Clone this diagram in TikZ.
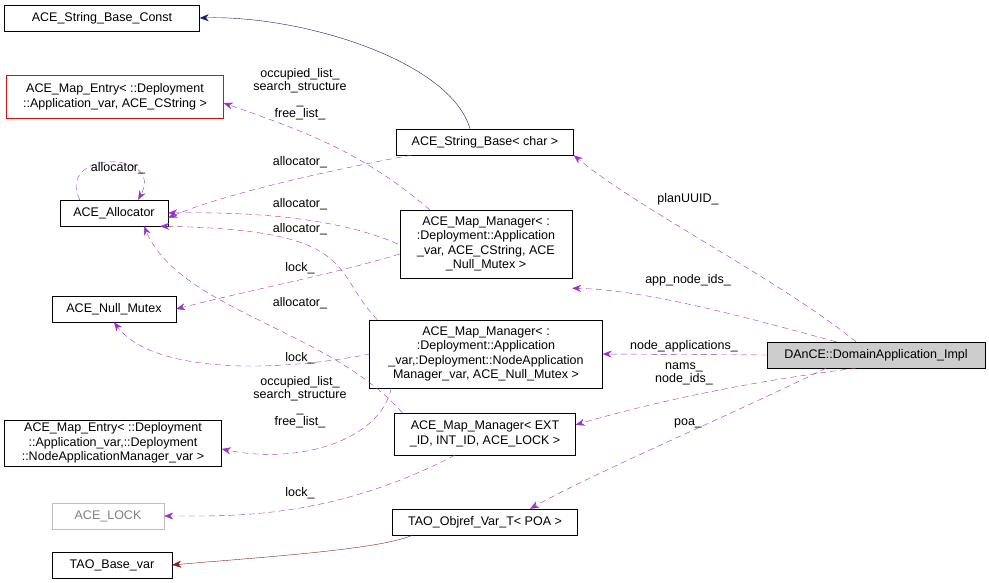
\documentclass[tikz,border=0pt]{standalone}
\usepackage{fontspec}
\setmainfont{Liberation Sans}
\usetikzlibrary{arrows.meta}

\definecolor{orchid}{RGB}{153,50,204}
\definecolor{navyline}{RGB}{25,25,112}
\definecolor{redline}{RGB}{139,26,26}

\tikzset{
	cls/.style={draw=black, fill=white, font=\fontsize{12.5}{14.5}\selectfont, inner sep=2pt, align=center},
	use/.style={dash pattern=on 6pt off 4pt, color=orchid, -{Stealth[length=9pt,width=7pt]}},
	lbl/.style={font=\fontsize{12.5}{13.5}\selectfont, align=center, inner sep=0pt},
}

\begin{document}
\begin{tikzpicture}[x=1pt, y=-1pt]
	\useasboundingbox (0,0) rectangle (989,583);

% classes
	\node[cls, minimum width=195pt, minimum height=26pt] (sbc) at (102,18) {ACE\_String\_Base\_Const};
	\node[cls, draw=red, minimum width=217pt, minimum height=43pt] (me1) at (115,97) {ACE\_Map\_Entry< ::Deployment\\::Application\_var, ACE\_CString >};
	\node[cls, minimum width=177pt, minimum height=26pt] (sb) at (485,142) {ACE\_String\_Base< char >};
	\node[cls, minimum width=108pt, minimum height=26pt] (alloc) at (114,213) {ACE\_Allocator};
	\node[cls, minimum width=172pt, minimum height=68pt] (mm1) at (486,244) {ACE\_Map\_Manager< :\\:Deployment::Application\\\_var, ACE\_CString, ACE\\\_Null\_Mutex >};
	\node[cls, minimum width=124pt, minimum height=26pt] (nm) at (114,309) {ACE\_Null\_Mutex};
	\node[cls, minimum width=233pt, minimum height=68pt] (mm2) at (486,354) {ACE\_Map\_Manager< :\\:Deployment::Application\\\_var,:Deployment::NodeApplication\\Manager\_var, ACE\_Null\_Mutex >};
	\node[cls, fill=lightgray!80, minimum width=218pt, minimum height=26pt] (dai) at (876,355) {DAnCE::DomainApplication\_Impl};
	\node[cls, minimum width=217pt, minimum height=46pt] (me2) at (113,443) {ACE\_Map\_Entry< ::Deployment\\::Application\_var,::Deployment\\::NodeApplicationManager\_var >};
	\node[cls, minimum width=181pt, minimum height=42pt] (mm3) at (485,434) {ACE\_Map\_Manager< EXT\\\_ID, INT\_ID, ACE\_LOCK >};
	\node[cls, draw=lightgray, text=gray, minimum width=112pt, minimum height=26pt] (lock) at (108,516) {ACE\_LOCK};
	\node[cls, minimum width=185pt, minimum height=26pt] (obj) at (485,522) {TAO\_Objref\_Var\_T< POA >};
	\node[cls, minimum width=120pt, minimum height=26pt] (bv) at (112,565) {TAO\_Base\_var};

% inheritance
	\draw[color=navyline, -{Stealth[length=9pt,width=7pt]}] (sb.north) ++(-15,0) .. controls (450,60) and (300,15) .. (sbc.east);
	\draw[color=redline, -{Stealth[length=9pt,width=7pt]}] (obj.south west) ++(20,0) .. controls (380,550) and (250,558) .. (bv.east);

% members of DAnCE::DomainApplication_Impl
	\draw[use] (dai.north) ++(-20,0) .. controls (780,280) and (640,210) .. (sb.south east);
	\draw[use] (dai.north) ++(-40,0) .. controls (720,310) and (640,290) .. ([yshift=-10pt]mm1.south east);
	\draw[use] (dai.west) -- (mm2.east);
	\draw[use] ([xshift=-20pt]dai.south) .. controls (760,380) and (660,400) .. ([yshift=-12pt]mm3.north east);
	\draw[use] ([xshift=-50pt]dai.south) .. controls (720,420) and (600,470) .. ([xshift=45pt]obj.north);
	\node[lbl] (l1) at (688,199) {planUUID\_};
	\node[lbl] (l2) at (688,280) {app\_node\_ids\_};
	\node[lbl] (l3) at (684,346) {node\_applications\_};
	\node[lbl] (l4) at (684,374) {nams\_\\node\_ids\_};
	\node[lbl] (l5) at (688,423) {poa\_};

% allocator
	\draw[use] (alloc.north west) ++(20,0) .. controls (55,150) and (165,150) .. ([xshift=-30pt]alloc.north east);
	\node[lbl] (l6) at (118,168) {allocator\_};
	\draw[use] ([xshift=15pt]sb.south west) .. controls (330,170) and (220,195) .. ([yshift=-5pt]alloc.east);
	\node[lbl] (l7) at (300,162) {allocator\_};
	\draw[use] ([xshift=-2pt]mm1.west) .. controls (330,214) and (230,212) .. (alloc.east);
	\node[lbl] (l8) at (300,204) {allocator\_};
	\draw[use] ([xshift=8pt]mm2.north west) .. controls (330,270) and (360,230) .. ([xshift=-8pt]alloc.south east);
	\node[lbl] (l9) at (300,229) {allocator\_};
	\draw[use] ([xshift=8pt]mm3.north west) .. controls (330,330) and (180,310) .. ([xshift=30pt]alloc.south);
	\node[lbl] (l10) at (300,303) {allocator\_};

% lock
	\draw[use] ([yshift=-10pt]mm1.west) .. controls (330,275) and (250,290) .. (nm.east);
	\node[lbl] (l11) at (300,268) {lock\_};
	\draw[use] ([xshift=1pt]mm2.west) .. controls (260,375) and (150,370) .. (nm.south);
	\node[lbl] (l12) at (300,358) {lock\_};
	\draw[use] ([xshift=-30pt]mm3.south) .. controls (330,520) and (230,516) .. (lock.east);
	\node[lbl] (l13) at (300,493) {lock\_};

% map entries
	\draw[use] ([xshift=30pt]mm1.north west) .. controls (360,150) and (300,130) .. ([yshift=-6pt]me1.east);
	\node[lbl] (l14) at (300,94) {occupied\_list\_\\search\_structure\\\_\\free\_list\_};
	\draw[use] ([xshift=22pt]mm2.south west) .. controls (380,440) and (300,465) .. ([yshift=-6pt]me2.east);
	\node[lbl] (l15) at (300,402) {occupied\_list\_\\search\_structure\\\_\\free\_list\_};
\end{tikzpicture}
\end{document}
